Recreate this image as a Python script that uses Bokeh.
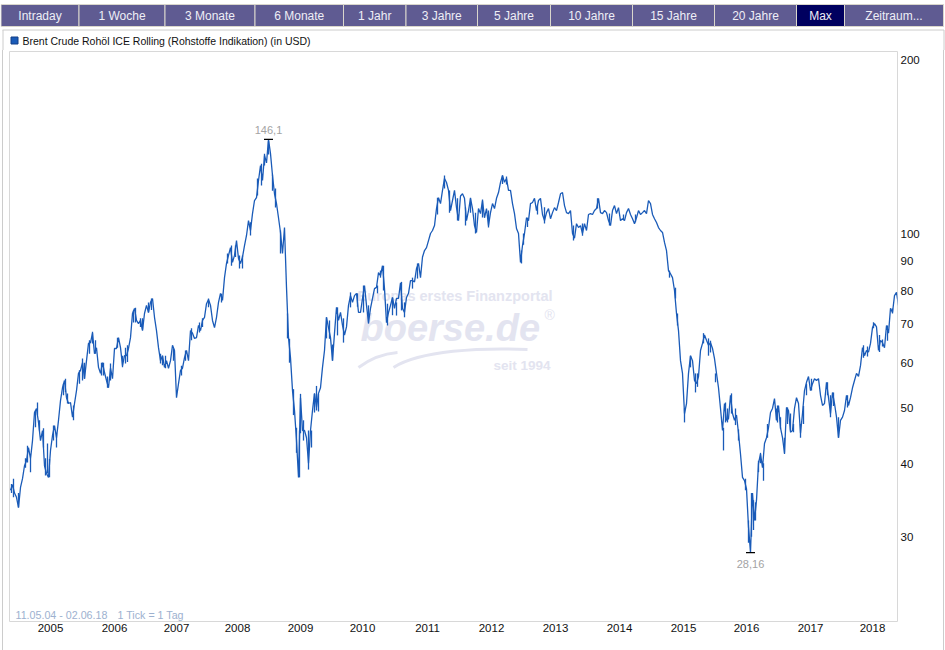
from bokeh.core.properties import value
from bokeh.embed import file_html
from bokeh.layouts import column
from bokeh.models import BasicTickFormatter, FixedTicker, Label
from bokeh.plotting import figure
from bokeh.resources import INLINE
import numpy as np

# Brent prices, one value every 8 ticks (chunks = roughly one year)
prices_2004 = [36.1, 36.9, 35.7, 35.1, 33.7, 36.5, 37.8, 39.8, 40.6, 42.8, 40.9, 44.0, 49.2, 50.0, 47.3, 44.0, 45.8,
               39.8, 38.6, 38.0]
prices_2005 = [42.3, 44.9, 46.7, 44.5, 47.7, 51.6, 54.3, 55.9, 52.2, 51.0, 51.2, 48.3, 51.0, 53.7, 57.5, 58.2, 60.0,
               56.3, 60.5, 64.8, 65.0, 67.5, 62.2, 63.7, 58.9, 57.5, 60.0, 57.7, 55.9, 54.3, 58.7, 56.3]
prices_2006 = [63.5, 63.5, 66.3, 63.7, 59.3, 61.7, 61.7, 63.5, 66.3, 73.0, 74.5, 71.0, 70.1, 71.0, 68.2, 73.0, 75.4,
               73.3, 76.3, 77.5, 71.9, 68.2, 63.7, 60.5, 61.7, 58.9, 60.5, 58.7, 60.5, 64.3, 63.0]
prices_2007 = [52.2, 55.2, 58.2, 58.7, 61.2, 63.0, 60.5, 68.2, 67.5, 66.1, 66.3, 69.6, 68.2, 71.0, 71.9, 75.9, 77.2,
               75.4, 71.0, 69.0, 71.9, 76.3, 79.1, 76.9, 84.2, 89.1, 92.0, 94.9, 89.5, 92.0, 97.6, 90.9]
prices_2008 = [89.1, 91.4, 95.7, 99.6, 105.7, 101.6, 108.7, 114.5, 115.8, 124.0, 131.6, 124.0, 137.0, 133.0, 146.1,
               138.0, 126.5, 117.6, 113.1, 106.9, 100.8, 92.7, 102.8, 81.0, 66.3, 61.2, 53.7, 49.6, 44.0, 38.0, 52.2,
               45.8]
prices_2009 = [45.8, 44.5, 40.2, 45.8, 49.6, 53.1, 50.2, 53.1, 54.3, 58.9, 63.0, 71.9, 69.0, 66.3, 60.5, 67.5, 74.8,
               71.0, 73.3, 69.6, 67.0, 69.2, 75.4, 78.4, 76.3, 78.4, 79.1, 73.3, 73.3, 77.5, 81.6, 75.4]
prices_2010 = [70.4, 74.5, 77.5, 80.6, 81.0, 85.9, 84.9, 88.3, 80.6, 70.4, 73.3, 75.4, 77.8, 74.5, 77.5, 77.5, 82.5,
               74.5, 73.3, 77.8, 79.1, 83.2, 83.2, 82.8, 87.3, 89.1, 84.2, 91.4, 93.8, 94.9, 97.6, 100.4]
prices_2011 = [101.6, 103.6, 110.9, 115.8, 113.1, 119.2, 125.0, 123.0, 119.2, 110.0, 114.5, 119.2, 111.3, 105.7, 116.6,
               117.6, 115.5, 105.7, 110.0, 115.5, 110.9, 103.6, 100.8, 110.9, 108.7, 114.5, 106.9, 110.9, 103.6, 109.1,
               113.1, 110.9]
prices_2012 = [115.5, 118.2, 123.1, 126.5, 123.1, 125.0, 119.2, 119.2, 113.1, 108.7, 102.4, 100.4, 89.5, 95.7, 100.4,
               106.9, 105.7, 113.1, 113.6, 115.5, 110.0, 114.5, 115.5, 108.3, 105.7, 109.1, 110.9, 106.5, 109.1, 111.3,
               110.0, 113.6]
prices_2013 = [117.6, 118.2, 112.2, 109.1, 108.7, 110.0, 100.4, 98.5, 104.4, 102.8, 103.6, 100.4, 104.4, 101.6, 108.3,
               108.7, 108.3, 110.0, 110.9, 115.5, 109.1, 108.7, 110.0, 109.1, 105.7, 103.6, 110.0, 112.2, 108.7, 111.3,
               105.7, 106.5]
prices_2014 = [105.7, 109.1, 110.9, 108.3, 106.5, 104.4, 106.9, 110.0, 108.3, 109.1, 110.0, 108.7, 114.5, 113.1, 108.3,
               106.5, 104.9, 102.8, 101.6, 100.8, 96.9, 93.8, 86.6, 85.5, 84.2, 80.0, 73.0, 68.2, 60.5, 57.5, 49.0,
               51.0]
prices_2015 = [57.5, 61.7, 60.5, 55.9, 55.2, 56.8, 63.0, 64.8, 67.0, 65.6, 64.3, 65.0, 63.5, 61.0, 57.5, 54.3, 50.0,
               45.8, 51.0, 47.7, 48.0, 52.7, 49.0, 47.7, 48.7, 45.3, 41.7, 38.0, 37.5, 36.3, 31.2]
prices_2016 = [28.16, 35.7, 32.0, 34.7, 40.2, 41.7, 39.5, 43.5, 44.5, 46.3, 49.2, 50.0, 52.0, 47.7, 50.6, 46.3, 44.5,
               41.9, 50.2, 49.6, 45.5, 45.8, 50.0, 52.2, 51.0, 45.3, 49.0, 53.7, 55.5, 56.8, 53.7, 55.2]
prices_2017 = [56.3, 55.9, 56.3, 52.7, 50.6, 51.0, 55.5, 52.2, 49.0, 53.3, 51.0, 48.3, 44.5, 47.7, 48.3, 49.6, 52.7,
               50.6, 52.2, 54.3, 55.9, 57.5, 56.8, 59.3, 63.7, 61.7, 63.0, 62.6, 64.8, 69.0, 70.1, 69.2]
prices_2018 = [63.0, 65.6, 65.0, 63.7, 69.6, 67.5, 74.5, 73.3, 78.4, 79.4, 75.4]

# short swings that show up as thick vertical strokes: tick, high, low
swings_2004 = [(4, 37.0, 35.7), (12, 37.8, 35.1), (32, 35.7, 33.7), (60, 41.0, 39.5), (68, 43.1, 40.3),
               (80, 40.9, 38.8), (100, 49.6, 46.4), (108, 51.2, 48.7), (116, 47.7, 45.8), (132, 46.2, 42.8),
               (140, 41.0, 38.3), (148, 43.5, 38.6), (156, 40.9, 38.0), (172, 46.7, 44.0), (184, 45.3, 42.8),
               (212, 55.2, 52.7), (220, 56.3, 53.4), (228, 53.1, 51.0), (252, 50.6, 47.7), (276, 58.2, 55.2),
               (288, 61.0, 55.9), (296, 60.0, 56.3), (316, 65.6, 62.2), (328, 67.9, 64.8), (340, 65.6, 62.2),
               (364, 60.0, 57.0), (372, 60.0, 57.0), (388, 56.8, 54.3), (400, 59.8, 55.9), (428, 66.3, 63.7),
               (448, 61.7, 58.9), (460, 63.7, 59.8), (468, 64.3, 60.2), (492, 73.9, 70.4), (500, 74.7, 70.4),
               (520, 71.6, 69.2), (528, 71.6, 68.5), (552, 76.3, 73.3), (564, 77.5, 74.0), (600, 62.2, 59.8),
               (608, 61.7, 59.4), (620, 61.7, 58.7), (652, 63.5, 60.5)]
swings_2007 = [(684, 59.3, 57.0), (700, 63.0, 60.5), (724, 68.8, 65.6), (756, 70.4, 67.7), (768, 71.6, 69.2),
               (792, 77.5, 74.8), (844, 79.0, 76.3), (868, 92.7, 89.1), (884, 95.7, 88.3), (900, 95.7, 91.4),
               (916, 92.0, 87.3), (928, 92.0, 87.3), (960, 105.0, 99.6), (988, 125.0, 116.8), (1004, 132.6, 121.5),
               (1016, 138.0, 131.6), (1032, 145.0, 137.5), (1048, 127.0, 119.0), (1060, 120.1, 111.3),
               (1080, 101.6, 92.7), (1108, 73.0, 66.1), (1116, 66.0, 60.0), (1132, 54.0, 48.7), (1144, 46.3, 41.9),
               (1156, 45.8, 38.0), (1160, 53.0, 45.3), (1172, 47.7, 44.0), (1192, 45.8, 39.2), (1204, 45.8, 42.8),
               (1216, 53.0, 49.2), (1224, 54.7, 49.6), (1232, 53.0, 49.4), (1264, 71.9, 66.1), (1276, 71.0, 66.0),
               (1288, 64.5, 60.5), (1308, 74.8, 66.9), (1332, 71.6, 65.0), (1360, 79.4, 74.8), (1388, 79.1, 75.0),
               (1412, 81.6, 73.3)]
swings_2010 = [(1432, 75.4, 70.1), (1468, 81.6, 79.1), (1480, 86.6, 84.2), (1492, 88.3, 80.0), (1508, 75.9, 69.6),
               (1528, 77.8, 72.5), (1544, 76.3, 72.4), (1564, 82.8, 73.9), (1576, 76.3, 71.9), (1608, 84.2, 80.6),
               (1628, 89.1, 83.9), (1708, 115.8, 108.3), (1736, 126.5, 120.1), (1756, 119.2, 109.1),
               (1788, 115.5, 105.7), (1820, 111.3, 103.6), (1840, 115.8, 109.1), (1860, 109.1, 100.4),
               (1888, 115.0, 107.0), (1912, 110.0, 102.8), (1968, 126.5, 122.3), (1984, 126.0, 122.0),
               (2044, 93.8, 89.1), (2052, 100.4, 96.0), (2068, 106.9, 103.0), (2108, 112.2, 108.3),
               (2136, 111.5, 104.5), (2252, 103.6, 97.6), (2288, 104.5, 99.5), (2348, 115.5, 110.9),
               (2396, 108.7, 103.6), (2452, 108.3, 106.0), (2500, 108.3, 105.0), (2636, 86.6, 84.2),
               (2660, 80.9, 77.5), (2668, 73.0, 69.6), (2696, 50.0, 47.3)]
swings_2015 = [(2720, 61.7, 58.9), (2740, 57.5, 53.3), (2748, 57.5, 54.5), (2772, 67.5, 64.8), (2792, 66.1, 61.7),
               (2800, 65.5, 62.5), (2820, 57.5, 55.5), (2852, 46.3, 42.3), (2860, 51.2, 47.3), (2868, 50.0, 47.3),
               (2884, 53.1, 49.0), (2900, 50.0, 46.8), (2912, 46.0, 44.0), (2940, 37.8, 36.1), (2952, 32.0, 29.3),
               (2964, 35.7, 30.0), (2972, 34.7, 30.8), (2980, 34.4, 32.0), (2992, 40.6, 38.8), (3000, 41.9, 40.2),
               (3012, 40.2, 37.5), (3028, 47.0, 44.5), (3064, 50.0, 47.7), (3068, 50.6, 47.3), (3080, 48.3, 46.1),
               (3096, 44.5, 41.7), (3108, 50.2, 47.0), (3120, 49.0, 45.8), (3132, 47.0, 45.5), (3160, 47.0, 44.5),
               (3172, 50.5, 47.0), (3184, 55.2, 52.7), (3204, 56.3, 53.7), (3268, 55.5, 52.7), (3280, 52.7, 48.3),
               (3292, 53.3, 50.5), (3312, 48.3, 44.5), (3348, 52.7, 50.2), (3412, 64.3, 61.2), (3428, 64.0, 61.5),
               (3452, 70.5, 68.8), (3476, 67.0, 62.6), (3488, 65.8, 64.0), (3508, 69.6, 65.5), (3528, 74.5, 73.0)]

year_labels = ["2005", "2006", "2007", "2008", "2009", "2010", "2011", "2012", "2013", "2014", "2015", "2016", "2017",
               "2018"]
year_ticks = [160, 416, 664, 908, 1160, 1408, 1668, 1924, 2180, 2436, 2692, 2944, 3200, 3448]
price_ticks = [30, 40, 50, 60, 70, 80, 90, 100, 200]

tab_names = ["Intraday", "1 Woche", "3 Monate", "6 Monate", "1 Jahr", "3 Jahre", "5 Jahre", "10 Jahre", "15 Jahre",
             "20 Jahre", "Max", "Zeitraum..."]

# page layout in pixels
tab_edges = [0.5, 78.5, 164.5, 254.5, 343, 405.5, 477, 550, 632, 714, 796, 844, 943]
FONT = "Liberation Sans"
LINE_BLUE = "#1a5bb8"
MARK_COLOR = "#e3e4f0"
BORDER = "#cccccc"
TICKS_PER_SAMPLE = 8

prices = (prices_2004 + prices_2005 + prices_2006 + prices_2007 + prices_2008 + prices_2009 + prices_2010 +
          prices_2011 + prices_2012 + prices_2013 + prices_2014 + prices_2015 + prices_2016 + prices_2017 +
          prices_2018)
ticks = np.arange(len(prices)) * TICKS_PER_SAMPLE
swing_ticks, swing_highs, swing_lows = zip(*(swings_2004 + swings_2007 + swings_2010 + swings_2015))

side_lines = ("linear-gradient(#ccc,#ccc) 2px 0/1px 100% no-repeat,"
              "linear-gradient(#ccc,#ccc) 943px 0/1px 100% no-repeat")

'''Tab bar and legend row'''
tabs = figure(width=945, height=50, x_range=(0, 945), y_range=(50, 0), output_backend="svg", toolbar_location=None,
              min_border=0, outline_line_color=None, x_axis_location=None, y_axis_location=None)
tabs.frame_align = False
tabs.grid.visible = False
tab_colors = ["#00005f" if name == "Max" else "#5f5b92" for name in tab_names]
tabs.quad(left=tab_edges[:-1], right=tab_edges[1:], top=4, bottom=26, fill_color=tab_colors, line_color="#d9d6cc",
          line_width=1)
tabs.text([(a + b) / 2 for a, b in zip(tab_edges[:-1], tab_edges[1:])], [15] * len(tab_names), text=tab_names,
          text_color="#eeeef6", text_font=value(FONT), text_font_size="12px", text_align="center",
          text_baseline="middle")
tabs.segment(2, 29.5, 943.5, 29.5, line_color=BORDER, line_width=1)
tabs.segment([2.5, 943.5], 29.5, [2.5, 943.5], 50, line_color=BORDER, line_width=1)
tabs.quad(left=10.5, right=17.5, top=36.5, bottom=43.5, fill_color=LINE_BLUE, line_color="#123f86", line_width=1)
tabs.text(22, 40, text=["Brent Crude Rohöl ICE Rolling (Rohstoffe Indikation) (in USD)"], text_color="#111111",
          text_font=value(FONT), text_font_size="10.5px", text_baseline="middle")

'''Price chart'''
p = figure(width=945, height=600, x_range=(-4, 3548), y_range=(21.4, 207.3), y_axis_type="log",
           y_axis_location="right", output_backend="svg", toolbar_location=None, min_border_left=9,
           min_border_right=48, min_border_top=1, min_border_bottom=29, outline_line_color="#d8d8d8",
           background_fill_color="white", border_fill_color=None, styles={"background": side_lines})
p.frame_align = False
p.grid.visible = False

p.xaxis.ticker = FixedTicker(ticks=year_ticks)
p.xaxis.major_label_overrides = dict(zip(year_ticks, year_labels))
p.yaxis.ticker = FixedTicker(ticks=price_ticks)
p.yaxis.formatter = BasicTickFormatter()
for axis in (p.xaxis[0], p.yaxis[0]):
    axis.axis_line_color = None
    axis.major_tick_line_color = None
    axis.minor_tick_line_color = None
    axis.major_tick_out = 0
    axis.major_label_standoff = 2
    axis.major_label_text_font = FONT
    axis.major_label_text_font_size = "11.5px"
    axis.major_label_text_color = "#111111"
p.yaxis.major_label_standoff = 3

# watermark, sits under the line
for text, left, up, size, style in [("Europas erstes Finanzportal", 348, 326, "14.5px", "bold"),
                                    ("boerse.de", 351, 294, "38px", "bold italic"),
                                    ("\u00ae", 535, 307, "14px", "normal"),
                                    ("seit 1994", 484, 256, "13.5px", "bold")]:
    p.add_layout(Label(x=left, y=up, x_units="screen", y_units="screen", text=text, text_color=MARK_COLOR,
                       text_font=FONT, text_font_size=size, text_font_style=style, text_baseline="middle",
                       level="underlay"))


def tick_of(px):
    return (px - 10) * 4


def price_of(py):
    return 100 * 10 ** ((234 - py) / 578)


p.bezier(tick_of(358), price_of(367), tick_of(397), price_of(352), tick_of(370), price_of(358), tick_of(385),
         price_of(353), line_color=MARK_COLOR, line_width=3, level="underlay")
p.bezier(tick_of(393), price_of(367), tick_of(527), price_of(349), tick_of(420), price_of(350), tick_of(480),
         price_of(347), line_color=MARK_COLOR, line_width=3, level="underlay")

p.line(ticks, prices, line_color=LINE_BLUE, line_width=1.3)
p.segment(swing_ticks, swing_lows, swing_ticks, swing_highs, line_color=LINE_BLUE, line_width=1.3)

# high and low markers
for val, baseline, offset, label in [(max(prices), "bottom", -5, "146,1"), (min(prices), "top", 7, "28,16")]:
    at = ticks[prices.index(val)]
    p.scatter([at], [val], marker="dash", size=9, line_color="black", line_width=1.2)
    p.text([at], [val], text=[label], text_color="#a3a3a3", text_font=value(FONT), text_font_size="11px",
           text_align="center", text_baseline=baseline, y_offset=offset)

p.add_layout(Label(x=6, y=7, x_units="screen", y_units="screen", text="11.05.04 - 02.06.18", text_color="#9db1cf",
                   text_font=FONT, text_font_size="10.7px", text_baseline="middle"))
p.add_layout(Label(x=108, y=7, x_units="screen", y_units="screen", text="1 Tick = 1 Tag", text_color="#9db1cf",
                   text_font=FONT, text_font_size="10.7px", text_baseline="middle"))

open("out.html", "w").write(file_html(column(tabs, p, spacing=0), INLINE))
